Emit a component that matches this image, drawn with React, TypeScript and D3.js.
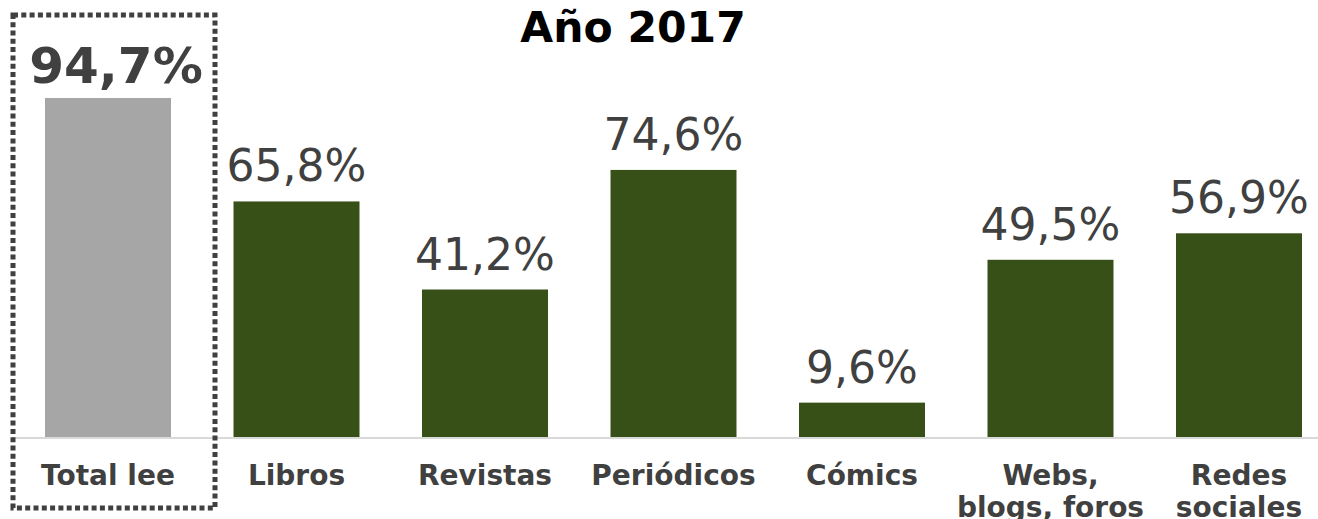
import React from "react";
import * as d3 from "d3";

const categories: string[][] = [
  ["Total lee"],
  ["Libros"],
  ["Revistas"],
  ["Periódicos"],
  ["Cómics"],
  ["Webs,", "blogs, foros"],
  ["Redes", "sociales"],
];
const values: number[] = [94.7, 65.8, 41.2, 74.6, 9.6, 49.5, 56.9];
const valueLabels: string[] = ["94,7%", "65,8%", "41,2%", "74,6%", "9,6%", "49,5%", "56,9%"];
const title = "Año 2017";

const W = 1318;
const H = 519;
const FONT = "Verdana, 'DejaVu Sans', sans-serif";

export default function App() {
  const keys = categories.map((c) => c.join(" "));
  const x = d3
    .scaleBand<string>()
    .domain(keys)
    .range([-17.5, 1364.5])
    .paddingInner(0.3316)
    .paddingOuter(0.3316);
  const y = d3.scaleLinear().domain([0, 100]).range([437, 79]);
  const baseY = y(0);

  return (
    <svg
      width={W}
      height={H}
      style={{ position: "absolute", left: 0, top: 0, background: "#fff" }}
    >
      <text x={633} y={42} textAnchor="middle" fontFamily={FONT} fontWeight="bold" fontSize={42.5} fill="#000">
        {title}
      </text>
      <line x1={12} x2={1318} y1={baseY + 1} y2={baseY + 1} stroke="#d9d9d9" strokeWidth={2} />
      {values.map((v, i) => {
        const k = keys[i];
        const bx = x(k)!;
        const bw = x.bandwidth();
        const cx = bx + bw / 2;
        const first = i === 0;
        return (
          <g key={k}>
            <rect x={bx} y={y(v)} width={bw} height={baseY - y(v)} fill={first ? "#a6a6a6" : "#375017"} />
            <text
              x={first ? cx + 8 : cx}
              y={y(v) - (first ? 15 : 20)}
              textAnchor="middle"
              fontFamily={FONT}
              fontWeight={first ? "bold" : "normal"}
              fontSize={first ? 50 : 44}
              fill="#404040"
            >
              {valueLabels[i]}
            </text>
            {categories[i].map((line, j) => (
              <text
                key={j}
                x={cx}
                y={485 + j * 32}
                textAnchor="middle"
                fontFamily={FONT}
                fontWeight="bold"
                fontSize={28}
                fill="#404040"
              >
                {line}
              </text>
            ))}
          </g>
        );
      })}
      <rect
        x={13}
        y={15}
        width={202}
        height={493}
        fill="none"
        stroke="#404040"
        strokeWidth={5}
        strokeDasharray="5 3.3"
      />
    </svg>
  );
}
